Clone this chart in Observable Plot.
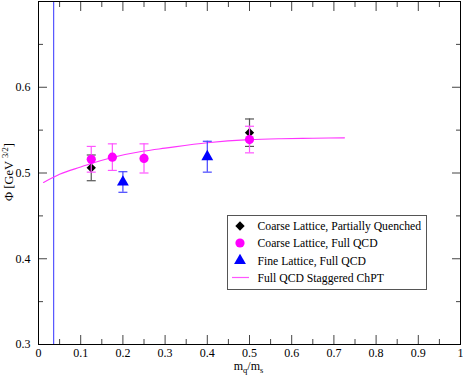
<!DOCTYPE html>
<html>
<head>
<meta charset="utf-8">
<script src="https://cdn.jsdelivr.net/npm/d3@7"></script>
<script src="https://cdn.jsdelivr.net/npm/@observablehq/plot@0.6"></script>
<style>
  html, body { margin: 0; padding: 0; background: #fff; }
  #chart { position: relative; width: 463px; height: 382px; }
  svg { display: block; }
  #chart svg text { font-family: 'Liberation Serif', 'Times New Roman', serif; }
</style>
</head>
<body>
<div id="chart"></div>
<script>
// ---- data ----
const pqX   = [0.125, 0.5];
const pqY   = [0.506, 0.547];
const pqErr = [0.015, 0.016];

const fullX   = [0.125, 0.175, 0.25, 0.5];
const fullY   = [0.516, 0.5185, 0.517, 0.539];
const fullErr = [0.015, 0.0155, 0.017, 0.0155];

const fineX   = [0.2, 0.4];
const fineY   = [0.4895, 0.519];
const fineErr = [0.012, 0.018];

const chptX = [0.012, 0.05, 0.1, 0.125, 0.175, 0.25, 0.3, 0.4, 0.5, 0.575, 0.65, 0.725];
const chptY = [0.489, 0.4985, 0.507, 0.511, 0.518, 0.5256, 0.529, 0.5353, 0.5389, 0.5400, 0.5405, 0.5410];

const physicalX = [0.036];

const xMajor = [0, 0.1, 0.2, 0.3, 0.4, 0.5, 0.6, 0.7, 0.8, 0.9, 1];
const xMinor = [0.05, 0.15, 0.25, 0.35, 0.45, 0.55, 0.65, 0.75, 0.85, 0.95];
const yMajor = [0.3, 0.4, 0.5, 0.6, 0.7];
const yMinor = [0.35, 0.45, 0.55, 0.65];
const yLabeled = [0.3, 0.4, 0.5, 0.6];

const legendLabels = [
  "Coarse Lattice, Partially Quenched",
  "Coarse Lattice, Full QCD",
  "Fine Lattice, Full QCD",
  "Full QCD Staggered ChPT"
];

// ---- tables ----
const rows = (xs, ys, es) => xs.map((x, i) => ({x, y: ys[i], lo: ys[i] - (es ? es[i] : 0), hi: ys[i] + (es ? es[i] : 0)}));
const pq = rows(pqX, pqY, pqErr);
const full = rows(fullX, fullY, fullErr);
const fine = rows(fineX, fineY, fineErr);
const chpt = rows(chptX, chptY);

const cap = {draw(ctx) { ctx.moveTo(-4.5, 0); ctx.lineTo(4.5, 0); }};

function errorBars(data, color) {
  return [
    Plot.ruleX(data, {x: "x", y1: "lo", y2: "hi", stroke: color, strokeWidth: 1.2}),
    Plot.dot(data, {x: "x", y: "hi", symbol: cap, stroke: color, strokeWidth: 1.2, r: 3}),
    Plot.dot(data, {x: "x", y: "lo", symbol: cap, stroke: color, strokeWidth: 1.2, r: 3})
  ];
}

const tickColor = "#444";
const font = "'Liberation Serif', 'Times New Roman', serif";
const fmt = d => String(d);

const plot = Plot.plot({
  width: 463,
  height: 382,
  marginLeft: 38,
  marginRight: 3,
  marginTop: 1,
  marginBottom: 38,
  style: {fontFamily: font, fontSize: "12px", color: "#000", background: "#fff"},
  x: {domain: [0, 1]},
  y: {domain: [0.3, 0.7]},
  marks: [
    // axes with inward ticks
    Plot.axisX({anchor: "bottom", ticks: xMajor, tickSize: -9, tickPadding: 13, tickFormat: fmt, label: null, stroke: tickColor, fontSize: 12, fontFamily: font, fill: "#000"}),
    Plot.axisX({anchor: "bottom", ticks: xMinor, tickSize: -5, tickFormat: () => "", label: null, stroke: tickColor}),
    Plot.axisX({anchor: "top", ticks: xMajor, tickSize: -9, tickFormat: () => "", label: null, stroke: tickColor}),
    Plot.axisX({anchor: "top", ticks: xMinor, tickSize: -5, tickFormat: () => "", label: null, stroke: tickColor}),
    Plot.axisY({anchor: "left", ticks: yMajor, tickSize: -9, tickPadding: 17, tickFormat: d => yLabeled.includes(d) ? fmt(d) : "", label: null, stroke: tickColor, fontSize: 12, fontFamily: font, fill: "#000"}),
    Plot.axisY({anchor: "left", ticks: yMinor, tickSize: -5, tickFormat: () => "", label: null, stroke: tickColor}),
    Plot.axisY({anchor: "right", ticks: yMajor, tickSize: -9, tickFormat: () => "", label: null, stroke: tickColor}),
    Plot.axisY({anchor: "right", ticks: yMinor, tickSize: -5, tickFormat: () => "", label: null, stroke: tickColor}),
    // physical point line
    Plot.ruleX(physicalX, {stroke: "#3333ff", strokeWidth: 1}),
    // ChPT curve
    Plot.line(chpt, {x: "x", y: "y", stroke: "#ff33ff", strokeWidth: 1.1, curve: "monotone-x"}),
    // partially quenched
    ...errorBars(pq, "#555"),
    Plot.dot(pq, {x: "x", y: "y", symbol: "diamond2", fill: "#000", r: 4.2}),
    // full QCD coarse
    ...errorBars(full, "#ff55ff"),
    Plot.dot(full, {x: "x", y: "y", symbol: "circle", fill: "#ff00ff", r: 4.6}),
    // fine
    ...errorBars(fine, "#4444ff"),
    Plot.dot(fine, {x: "x", y: "y", symbol: "triangle", fill: "#0000ff", r: 4.4}),
    Plot.frame({stroke: "#000", strokeWidth: 1})
  ]
});

document.getElementById("chart").appendChild(plot);

// ---- axis labels with sub/superscripts ----
const svg = d3.select(plot);
const ylab = svg.append("text")
  .attr("transform", "translate(13,172) rotate(-90)")
  .attr("text-anchor", "middle")
  .attr("font-family", font)
  .attr("font-size", 12.5)
  .attr("fill", "#000");
ylab.append("tspan").text("Φ [GeV ");
ylab.append("tspan").attr("font-size", 8.5).attr("dy", -5).text("3/2");
ylab.append("tspan").attr("dy", 5).text("]");

const xlab = svg.append("text")
  .attr("x", 248.5).attr("y", 370)
  .attr("text-anchor", "middle")
  .attr("font-family", font)
  .attr("font-size", 12)
  .attr("fill", "#000");
xlab.append("tspan").text("m");
xlab.append("tspan").attr("font-size", 8.5).attr("dy", 3).text("q");
xlab.append("tspan").attr("dy", -3).text("/m");
xlab.append("tspan").attr("font-size", 8.5).attr("dy", 3).text("s");

// ---- legend ----
const lg = svg.append("g").attr("font-family", font).attr("font-size", 11.7).attr("text-anchor", "start");
lg.append("rect").attr("x", 227.5).attr("y", 215.5).attr("width", 199).attr("height", 74)
  .attr("fill", "#fff").attr("stroke", "#555").attr("stroke-width", 1);
const rowsY = [226, 243, 260.5, 277.5];
const sym = [
  {type: d3.symbolDiamond2, color: "#000", size: 4.2},
  {type: d3.symbolCircle, color: "#ff00ff", size: 4.6},
  {type: d3.symbolTriangle, color: "#0000ff", size: 4.4},
];
legendLabels.forEach((label, i) => {
  const y = rowsY[i];
  if (i < 3) {
    lg.append("path")
      .attr("transform", `translate(240,${y})`)
      .attr("d", d3.symbol(sym[i].type, Math.PI * sym[i].size * sym[i].size)())
      .attr("fill", sym[i].color);
  } else {
    lg.append("line").attr("x1", 232).attr("x2", 249).attr("y1", y).attr("y2", y)
      .attr("stroke", "#ff55ff").attr("stroke-width", 1.2);
  }
  lg.append("text").attr("x", 257.5).attr("y", y).attr("dy", "0.35em").attr("fill", "#000").text(label);
});
</script>
</body>
</html>
